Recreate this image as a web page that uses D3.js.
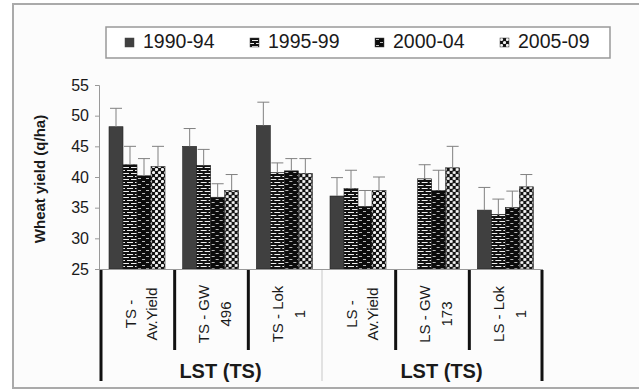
<!DOCTYPE html>
<html>
<head>
<meta charset="utf-8">
<script src="https://cdn.jsdelivr.net/npm/d3@7"></script>
<style>
  body { margin: 0; background: #fff; }
  text { font-family: "Liberation Sans", Arial, sans-serif; fill: #1a1a1a; }
</style>
</head>
<body>
<div id="chart"></div>
<script>

var width = 639,
    height = 390;

// categories (two-line rotated labels) and outer group labels
var catLine1 = ["TS -", "TS - GW", "TS - Lok", "LS -", "LS - GW", "LS - Lok"];
var catLine2 = ["Av.Yield", "496", "1", "Av.Yield", "173", "1"];
var groupLabels = ["LST (TS)", "LST (TS)"];
var series = ["1990-94", "1995-99", "2000-04", "2005-09"];

// wheat yield (q/ha)
var y1990 = [48.2, 45.0, 48.4, 36.9, null, 34.6];
var y1995 = [42.0, 41.9, 40.7, 38.1, 39.7, 33.9];
var y2000 = [40.2, 36.7, 41.0, 35.2, 37.8, 35.0];
var y2005 = [41.7, 37.8, 40.6, 37.8, 41.5, 38.4];

// upper error bar sizes
var e1990 = [3.0, 2.9, 3.8, 3.0, null, 3.7];
var e1995 = [3.0, 2.6, 1.6, 3.0, 2.3, 2.5];
var e2000 = [2.8, 2.2, 2.0, 2.6, 3.3, 2.7];
var e2005 = [3.3, 2.6, 2.4, 2.2, 3.5, 2.0];

var yTicks = [25, 30, 35, 40, 45, 50, 55];

var values = [y1990, y1995, y2000, y2005];
var errors = [e1990, e1995, e2000, e2005];

var svg = d3.select("#chart").append("svg")
    .attr("width", width)
    .attr("height", height);

// patterns for the bars
var defs = svg.append("defs");

var p1 = defs.append("pattern").attr("id", "pat1995")
    .attr("patternUnits", "userSpaceOnUse").attr("width", 8).attr("height", 6);
p1.append("rect").attr("width", 8).attr("height", 6).attr("fill", "#eee");
p1.append("rect").attr("y", 0).attr("width", 8).attr("height", 2).attr("fill", "#111");
p1.append("rect").attr("y", 3).attr("width", 8).attr("height", 2).attr("fill", "#111");
p1.append("rect").attr("x", 0).attr("y", 0).attr("width", 2).attr("height", 3).attr("fill", "#111");
p1.append("rect").attr("x", 4).attr("y", 3).attr("width", 2).attr("height", 3).attr("fill", "#111");

var p2 = defs.append("pattern").attr("id", "pat2000")
    .attr("patternUnits", "userSpaceOnUse").attr("width", 8).attr("height", 6);
p2.append("rect").attr("width", 8).attr("height", 6).attr("fill", "#0c0c0c");
p2.append("rect").attr("x", 1).attr("y", 1).attr("width", 3).attr("height", 1).attr("fill", "#bbb");
p2.append("rect").attr("x", 5).attr("y", 4).attr("width", 3).attr("height", 1).attr("fill", "#bbb");

var p3 = defs.append("pattern").attr("id", "pat2005")
    .attr("patternUnits", "userSpaceOnUse").attr("width", 6).attr("height", 6);
p3.append("rect").attr("width", 6).attr("height", 6).attr("fill", "#111");
p3.append("circle").attr("cx", 1.5).attr("cy", 1.5).attr("r", 1.6).attr("fill", "#f2f2f2");
p3.append("circle").attr("cx", 4.5).attr("cy", 4.5).attr("r", 1.6).attr("fill", "#f2f2f2");

var fills = ["#404040", "url(#pat1995)", "url(#pat2000)", "url(#pat2005)"];

// outer frame
svg.append("rect")
    .attr("x", 13).attr("y", 4)
    .attr("width", 640).attr("height", 384)
    .attr("fill", "#fcfcfc")
    .attr("stroke", "#aaa")
    .attr("stroke-width", 2);

// scales
var x0 = d3.scaleBand()
    .domain(d3.range(catLine1.length))
    .range([101, 543])
    .padding(0);

var x1 = d3.scaleBand()
    .domain(series)
    .range([8, 64]);

var y = d3.scaleLinear()
    .domain([25, 55])
    .range([269, 85]);

// y axis
var yAxis = svg.append("g")
    .attr("transform", "translate(99,0)")
    .call(d3.axisLeft(y).tickValues(yTicks).tickSize(4).tickPadding(6));
yAxis.select(".domain").attr("stroke", "#999");
yAxis.selectAll(".tick line").attr("stroke", "#999");
yAxis.selectAll(".tick text")
    .attr("font-size", 16)
    .attr("font-family", "Liberation Sans, Arial, sans-serif")
    .attr("fill", "#1a1a1a");

svg.append("text")
    .attr("transform", "translate(45,179) rotate(-90)")
    .attr("text-anchor", "middle")
    .attr("font-size", 15)
    .attr("font-weight", "bold")
    .text("Wheat yield (q/ha)");

// bars
var groups = svg.selectAll(".cat")
    .data(d3.range(catLine1.length))
    .enter().append("g")
    .attr("class", "cat")
    .attr("transform", function(i){ return "translate(" + x0(i) + ",0)"; });

series.forEach(function(s, si){
    groups.filter(function(i){ return values[si][i] != null; })
        .append("rect")
        .attr("x", x1(s))
        .attr("width", x1.bandwidth())
        .attr("y", function(i){ return y(values[si][i]); })
        .attr("height", function(i){ return y(25) - y(values[si][i]); })
        .attr("fill", fills[si])
        .attr("stroke", "#222")
        .attr("stroke-width", 0.6);
});

// error bars
series.forEach(function(s, si){
    var g = groups.filter(function(i){ return values[si][i] != null; })
        .append("g")
        .attr("stroke", "#808080")
        .attr("stroke-width", 1);
    var cx = x1(s) + x1.bandwidth() / 2;
    g.append("line")
        .attr("x1", cx).attr("x2", cx)
        .attr("y1", function(i){ return y(values[si][i]); })
        .attr("y2", function(i){ return y(values[si][i] + errors[si][i]); });
    g.append("line")
        .attr("x1", cx - 6).attr("x2", cx + 6)
        .attr("y1", function(i){ return y(values[si][i] + errors[si][i]); })
        .attr("y2", function(i){ return y(values[si][i] + errors[si][i]); });
});

// category axis
svg.append("line")
    .attr("x1", 99).attr("x2", 543)
    .attr("y1", 269.5).attr("y2", 269.5)
    .attr("stroke", "#999");

var cats = svg.selectAll(".catlabel")
    .data(d3.range(catLine1.length))
    .enter().append("text")
    .attr("class", "catlabel")
    .attr("text-anchor", "middle")
    .attr("font-size", 15)
    .attr("transform", function(i){
        return "translate(" + (x0(i) + x0.bandwidth() / 2) + ",314) rotate(-90)";
    });
cats.append("tspan").attr("x", 0).attr("dy", "-0.15em").text(function(i){ return catLine1[i]; });
cats.append("tspan").attr("x", 0).attr("dy", "1.45em").text(function(i){ return catLine2[i]; });

// separators inside the label rows
var nGroup = catLine1.length / groupLabels.length;
d3.range(catLine1.length + 1).forEach(function(i){
    var xx = i == catLine1.length ? x0.range()[1] - 1 : x0(i);
    var outer = (i == 0 || i == catLine1.length);
    var mid = (i % nGroup == 0) && !outer;
    svg.append("line")
        .attr("x1", xx).attr("x2", xx)
        .attr("y1", 270)
        .attr("y2", (outer || mid) ? 381 : 350)
        .attr("stroke", mid ? "#c8c8c8" : "#111")
        .attr("stroke-width", mid ? 1 : 3);
});

// outer group labels
svg.selectAll(".grouplabel")
    .data(groupLabels)
    .enter().append("text")
    .attr("class", "grouplabel")
    .attr("x", function(d, gi){ return (x0(gi * nGroup) + x0(gi * nGroup + nGroup - 1) + x0.bandwidth()) / 2 + 9; })
    .attr("y", 378)
    .attr("text-anchor", "middle")
    .attr("font-size", 20)
    .attr("font-weight", "bold")
    .text(function(d){ return d; });

// legend
var legend = svg.append("g");
legend.append("rect")
    .attr("x", 106).attr("y", 27)
    .attr("width", 504).attr("height", 31)
    .attr("fill", "#fff")
    .attr("stroke", "#999")
    .attr("stroke-width", 1.5);

var items = legend.selectAll(".item")
    .data(series)
    .enter().append("g")
    .attr("class", "item")
    .attr("transform", function(d, i){ return "translate(" + (125 + i * 125) + ",38)"; });
items.append("rect")
    .attr("width", 9).attr("height", 9)
    .attr("fill", function(d, i){ return fills[i]; })
    .attr("stroke", "#444")
    .attr("stroke-width", 0.5);
items.append("text")
    .attr("x", 18).attr("y", 10)
    .attr("font-size", 19.5)
    .text(function(d){ return d; });

</script>
</body>
</html>
